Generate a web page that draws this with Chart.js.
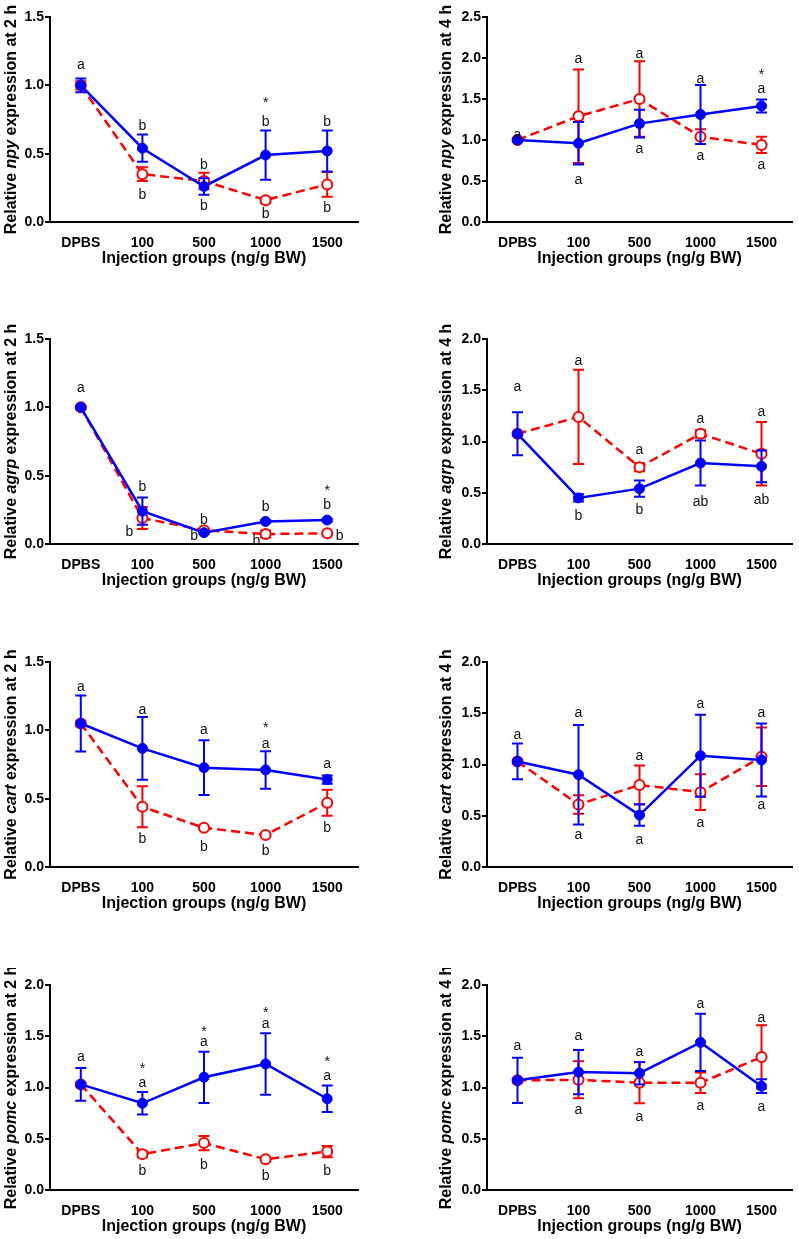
<!DOCTYPE html>
<html><head><meta charset="utf-8">
<script src="https://cdn.jsdelivr.net/npm/chart.js@4.4.1/dist/chart.umd.min.js"></script>
<style>
html,body{margin:0;padding:0;background:#fff;overflow:hidden;width:799px;height:1239px;position:relative;}
canvas{position:absolute;}
</style></head><body>
<canvas id="c0"></canvas><canvas id="c1"></canvas>
<canvas id="c2"></canvas><canvas id="c3"></canvas>
<canvas id="c4"></canvas><canvas id="c5"></canvas>
<canvas id="c6"></canvas><canvas id="c7"></canvas>
<script>
// ---------- data ----------
const categories = ['DPBS', '100', '500', '1000', '1500'];
const xAxisTitle = 'Injection groups (ng/g BW)';

// npy, 2 h
const npy2hFilled = [1.00, 0.54, 0.26, 0.49, 0.52];
const npy2hFilledErr = [0.05, 0.10, 0.06, 0.18, 0.15];
const npy2hOpen = [1.00, 0.35, 0.30, 0.16, 0.275];
const npy2hOpenErr = [0.03, 0.05, 0.06, 0.02, 0.09];
const npy2hLetters = [[0,1.15,'a'],[1,0.71,'b'],[1,0.21,'b'],[2,0.43,'b'],[2,0.13,'b'],[3,0.89,'*'],[3,0.745,'b'],[3,0.07,'b'],[4,0.745,'b'],[4,0.11,'b']];

// npy, 4 h
const npy4hFilled = [1.00, 0.96, 1.20, 1.31, 1.415];
const npy4hFilledErr = [0.02, 0.26, 0.17, 0.36, 0.08];
const npy4hOpen = [1.00, 1.29, 1.50, 1.04, 0.94];
const npy4hOpenErr = [0.02, 0.57, 0.46, 0.09, 0.10];
const npy4hLetters = [[0,1.06,'a'],[1,1.99,'a'],[1,0.51,'a'],[2,2.05,'a'],[2,0.89,'a'],[3,1.74,'a'],[3,0.81,'a'],[4,1.83,'*'],[4,1.62,'a'],[4,0.69,'a']];

// agrp, 2 h
const agrp2hFilled = [1.00, 0.24, 0.083, 0.165, 0.175];
const agrp2hFilledErr = [0.01, 0.10, 0.01, 0.01, 0.01];
const agrp2hOpen = [1.00, 0.19, 0.10, 0.073, 0.078];
const agrp2hOpenErr = [0.01, 0.08, 0.01, 0.025, 0.01];
const agrp2hLetters = [[0,1.14,'a'],[1,0.43,'b'],[1,0.10,'b',-0.21],[2,0.19,'b'],[2,0.066,'b',-0.16],[3,0.285,'b'],[3,0.03,'b',-0.15],[4,0.41,'*'],[4,0.30,'b'],[4,0.07,'b',0.2]];

// agrp, 4 h
const agrp4hFilled = [1.075, 0.45, 0.54, 0.79, 0.758];
const agrp4hFilledErr = [0.21, 0.035, 0.08, 0.22, 0.155];
const agrp4hOpen = [1.075, 1.24, 0.75, 1.075, 0.88];
const agrp4hOpenErr = [0.02, 0.46, 0.04, 0.035, 0.31];
const agrp4hLetters = [[0,1.53,'a'],[1,1.79,'a'],[1,0.29,'b'],[2,0.915,'a'],[2,0.35,'b'],[3,1.22,'a'],[3,0.425,'ab'],[4,1.29,'a'],[4,0.44,'ab']];

// cart, 2 h
const cart2hFilled = [1.05, 0.868, 0.727, 0.71, 0.64];
const cart2hFilledErr = [0.205, 0.23, 0.20, 0.137, 0.03];
const cart2hOpen = [1.05, 0.44, 0.287, 0.234, 0.47];
const cart2hOpenErr = [0.02, 0.15, 0.01, 0.01, 0.095];
const cart2hLetters = [[0,1.315,'a'],[1,1.15,'a'],[1,0.215,'b'],[2,1.0,'a'],[2,0.16,'b'],[3,1.04,'*'],[3,0.90,'a'],[3,0.13,'b'],[4,0.757,'a'],[4,0.30,'b']];

// cart, 4 h
const cart4hFilled = [1.03, 0.90, 0.507, 1.086, 1.044];
const cart4hFilledErr = [0.175, 0.485, 0.105, 0.40, 0.355];
const cart4hOpen = [1.03, 0.61, 0.80, 0.73, 1.076];
const cart4hOpenErr = [0.02, 0.09, 0.19, 0.175, 0.285];
const cart4hLetters = [[0,1.29,'a'],[1,1.50,'a'],[1,0.31,'a'],[2,1.08,'a'],[2,0.26,'a'],[3,1.59,'a'],[3,0.43,'a'],[4,1.50,'a'],[4,0.605,'a']];

// pomc, 2 h
const pomc2hFilled = [1.03, 0.846, 1.10, 1.23, 0.89];
const pomc2hFilledErr = [0.16, 0.11, 0.25, 0.30, 0.13];
const pomc2hOpen = [1.03, 0.35, 0.458, 0.30, 0.375];
const pomc2hOpenErr = [0.02, 0.03, 0.07, 0.01, 0.055];
const pomc2hLetters = [[0,1.30,'a'],[1,1.205,'*'],[1,1.04,'a'],[1,0.20,'b'],[2,1.575,'*'],[2,1.44,'a'],[2,0.26,'b'],[3,1.755,'*'],[3,1.62,'a'],[3,0.15,'b'],[4,1.28,'*'],[4,1.11,'a'],[4,0.20,'b']];

// pomc, 4 h
const pomc4hFilled = [1.07, 1.15, 1.14, 1.44, 1.013];
const pomc4hFilledErr = [0.22, 0.215, 0.11, 0.28, 0.067];
const pomc4hOpen = [1.07, 1.075, 1.046, 1.046, 1.297];
const pomc4hOpenErr = [0.02, 0.18, 0.20, 0.10, 0.31];
const pomc4hLetters = [[0,1.405,'a'],[1,1.50,'a'],[1,0.78,'a'],[2,1.35,'a'],[2,0.71,'a'],[3,1.81,'a'],[3,0.82,'a'],[4,1.68,'a'],[4,0.81,'a']];

// y-axis maxima (tick step 0.5)
const yMaxes = [1.5, 2.5, 1.5, 2.0, 1.5, 2.0, 2.0, 2.0];
const genes = ['npy','npy','agrp','agrp','cart','cart','pomc','pomc'];
const hours = ['2 h','4 h','2 h','4 h','2 h','4 h','2 h','4 h'];

const panelData = [
  [npy2hFilled, npy2hFilledErr, npy2hOpen, npy2hOpenErr, npy2hLetters],
  [npy4hFilled, npy4hFilledErr, npy4hOpen, npy4hOpenErr, npy4hLetters],
  [agrp2hFilled, agrp2hFilledErr, agrp2hOpen, agrp2hOpenErr, agrp2hLetters],
  [agrp4hFilled, agrp4hFilledErr, agrp4hOpen, agrp4hOpenErr, agrp4hLetters],
  [cart2hFilled, cart2hFilledErr, cart2hOpen, cart2hOpenErr, cart2hLetters],
  [cart4hFilled, cart4hFilledErr, cart4hOpen, cart4hOpenErr, cart4hLetters],
  [pomc2hFilled, pomc2hFilledErr, pomc2hOpen, pomc2hOpenErr, pomc2hLetters],
  [pomc4hFilled, pomc4hFilledErr, pomc4hOpen, pomc4hOpenErr, pomc4hLetters]
];

// ---------- layout / style ----------
const FONT = "'Liberation Sans', Arial, Helvetica, sans-serif";
const BLUE = '#0000ff', RED = '#ff0000';
const rowTops = [0, 322, 645, 968];
const CANVAS_H = 300, PLOT_TOP = 17, PLOT_H = 205;

const errorBarPlugin = {
  id: 'errorBars',
  beforeDatasetDraw(chart, args) {
    const ds = chart.data.datasets[args.index];
    const yS = chart.scales.y, ctx = chart.ctx;
    ctx.save();
    ctx.strokeStyle = ds.borderColor;
    ctx.lineWidth = 2;
    ctx.setLineDash([]);
    args.meta.data.forEach((pt, i) => {
      const v = ds.data[i], e = ds.errors[i];
      const x = pt.x, yt = yS.getPixelForValue(v + e), yb = yS.getPixelForValue(v - e);
      const cap = 5.5;
      ctx.beginPath();
      ctx.moveTo(x, yt); ctx.lineTo(x, yb);
      ctx.moveTo(x - cap, yt); ctx.lineTo(x + cap, yt);
      ctx.moveTo(x - cap, yb); ctx.lineTo(x + cap, yb);
      ctx.stroke();
    });
    ctx.restore();
  }
};

const lettersPlugin = {
  id: 'letters',
  afterDatasetsDraw(chart) {
    const list = chart.options.plugins.letters.items;
    const xS = chart.scales.x, yS = chart.scales.y, ctx = chart.ctx;
    const step = xS.getPixelForValue(1) - xS.getPixelForValue(0);
    ctx.save();
    ctx.font = '14px ' + FONT;
    ctx.fillStyle = '#111';
    ctx.textAlign = 'center';
    ctx.textBaseline = 'alphabetic';
    list.forEach(([idx, val, txt, dx]) => {
      const x = xS.getPixelForValue(idx) + (dx || 0) * step;
      const y = yS.getPixelForValue(val);
      const m = ctx.measureText(txt);
      const base = y + (m.actualBoundingBoxAscent - m.actualBoundingBoxDescent) / 2;
      ctx.fillText(txt, x, base);
    });
    ctx.restore();
  }
};

const yTitlePlugin = {
  id: 'yTitle',
  afterDraw(chart) {
    const o = chart.options.plugins.yTitle;
    const ctx = chart.ctx, ca = chart.chartArea;
    const parts = [['bold 16px ' + FONT, 'Relative '], ['bold italic 16px ' + FONT, o.gene], ['bold 16px ' + FONT, ' expression at ' + o.hour]];
    ctx.save();
    let total = 0;
    const widths = parts.map(([f, t]) => { ctx.font = f; const w = ctx.measureText(t).width; total += w; return w; });
    ctx.translate(o.x, (ca.top + ca.bottom) / 2);
    ctx.rotate(-Math.PI / 2);
    ctx.fillStyle = '#000';
    ctx.textBaseline = 'middle';
    ctx.textAlign = 'left';
    let cx = -total / 2;
    parts.forEach(([f, t], i) => { ctx.font = f; ctx.fillText(t, cx, 0); cx += widths[i]; });
    ctx.restore();
  }
};

panelData.forEach((pd, p) => {
  const [fill, fillErr, open, openErr, letters] = pd;
  const col = p % 2, row = Math.floor(p / 2);
  const cv = document.getElementById('c' + p);
  const left = col === 0 ? 0 : 400;
  const width = col === 0 ? 370 : 399;
  const yAxisW = col === 0 ? 50 : 87;
  const padRight = col === 0 ? 12 : 5;
  cv.width = width; cv.height = CANVAS_H;
  cv.style.left = left + 'px'; cv.style.top = rowTops[row] + 'px';
  cv.style.width = width + 'px'; cv.style.height = CANVAS_H + 'px';

  new Chart(cv, {
    type: 'line',
    data: {
      labels: categories,
      datasets: [
        {
          label: 'Filled', data: fill, errors: fillErr,
          borderColor: BLUE, backgroundColor: BLUE, borderWidth: 2.5,
          pointRadius: 5, pointHoverRadius: 5, pointBackgroundColor: BLUE, pointBorderColor: BLUE, pointBorderWidth: 1,
          tension: 0, fill: false
        },
        {
          label: 'Open', data: open, errors: openErr,
          borderColor: RED, backgroundColor: RED, borderWidth: 2.5, borderDash: [9, 5],
          pointRadius: 5, pointHoverRadius: 5, pointBackgroundColor: '#ffffff', pointBorderColor: RED, pointBorderWidth: 2,
          tension: 0, fill: false
        }
      ]
    },
    options: {
      responsive: false,
      animation: false,
      devicePixelRatio: 1,
      layout: { padding: { top: PLOT_TOP, right: padRight, left: 0, bottom: 0 } },
      plugins: {
        legend: { display: false },
        tooltip: { enabled: false },
        letters: { items: letters },
        yTitle: { gene: genes[p], hour: hours[p], x: col === 0 ? 12 : 47 }
      },
      scales: {
        x: {
          type: 'category',
          offset: true,
          grid: { display: false },
          border: { display: true, color: '#000', width: 2 },
          ticks: { color: '#000', font: { family: FONT, size: 14, weight: 'bold' }, padding: 5, maxRotation: 0, autoSkip: false },
          title: { display: true, text: xAxisTitle, color: '#000', font: { family: FONT, size: 16, weight: 'bold' }, padding: { top: 0, bottom: 32 } },
          afterFit(scale) { scale.height = CANVAS_H - PLOT_TOP - PLOT_H; }
        },
        y: {
          min: 0, max: yMaxes[p],
          grid: { display: true, drawOnChartArea: false, drawTicks: true, tickLength: 5, color: '#000', lineWidth: 2 },
          border: { display: true, color: '#000', width: 2 },
          ticks: { stepSize: 0.5, color: '#000', font: { family: FONT, size: 14, weight: 'bold' }, padding: 1,
                   callback: v => Number(v).toFixed(1) },
          afterFit(scale) { scale.width = yAxisW; }
        }
      }
    },
    plugins: [errorBarPlugin, lettersPlugin, yTitlePlugin]
  });
});
</script>
</body></html>
